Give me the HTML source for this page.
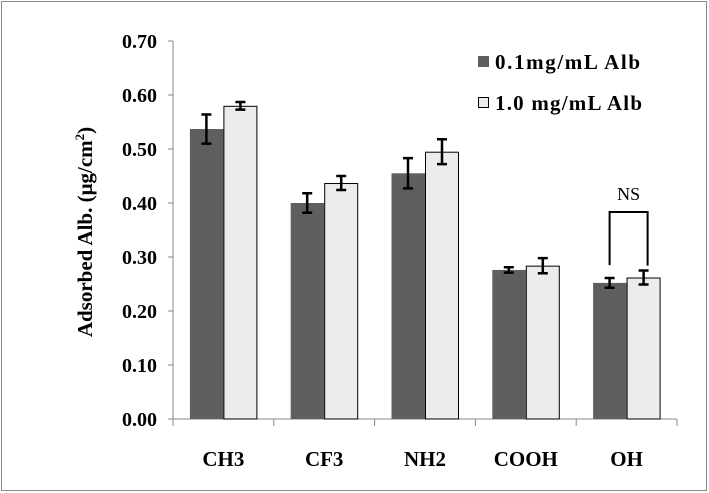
<!DOCTYPE html>
<html><head><meta charset="utf-8"><style>
body{margin:0;background:#fff;}
svg{display:block;font-family:"Liberation Serif",serif;}
</style></head><body>
<svg id="c" width="709" height="493">
<rect x="1.5" y="1.5" width="705" height="489" fill="#fff" stroke="#888"/>
<g id="g"></g>
</svg>
<script>
const categories=["CH3","CF3","NH2","COOH","OH"];
const series1=[0.537,0.400,0.455,0.276,0.252];
const err1=[0.027,0.018,0.028,0.005,0.009];
const series2=[0.580,0.437,0.495,0.284,0.262];
const err2=[0.007,0.013,0.023,0.014,0.013];
const ticks=[0,0.1,0.2,0.3,0.4,0.5,0.6,0.7];
const NS="http://www.w3.org/2000/svg";
const g=document.getElementById('g');
const X0=173,X1=677,Y0=419,Y1=41,YMAX=0.7;
const y=v=>Y0-(v/YMAX)*(Y0-Y1);
const bw=(X1-X0)/categories.length;
const cx=i=>X0+bw*(i+0.5);
function mk(t,a){const e=document.createElementNS(NS,t);for(const k in a)e.setAttribute(k,a[k]);g.appendChild(e);return e;}
let e=mk('line',{x1:X0,y1:Y1,x2:X0,y2:Y0,stroke:'#888'});


e=mk('line',{x1:X0,y1:Y0,x2:X1,y2:Y0,stroke:'#888'});


ticks.forEach(t=>{
 const tk=mk('line',{x1:X0-5,y1:y(t),x2:X0,y2:y(t),stroke:'#888'});
 
 
 const tx=mk('text',{x:X0-16,y:y(t)+7,'text-anchor':'end','font-size':20,'font-weight':'bold'});
 tx.textContent=t.toFixed(2);
 
 
});
for(let i=0;i<=categories.length;i++){
 const tk=mk('line',{x1:X0+bw*i,y1:Y0,x2:X0+bw*i,y2:Y0+7,stroke:'#888'});
 
 
}
function eb(xc,v,d){
 const gg=mk('path',{d:`M${xc},${y(v+d)}V${y(v-d)}M${xc-5},${y(v+d)}H${xc+5}M${xc-5},${y(v-d)}H${xc+5}`,stroke:'#000','stroke-width':2.5,fill:'none'});
 
 
}
categories.forEach((c,i)=>{
 const m=cx(i);
 const b1=mk('rect',{x:m-33.5,y:y(series1[i]),width:33.5,height:Y0-y(series1[i]),fill:'#5f5f5f'});
 
 
 const b2=mk('rect',{x:m+0.5,y:y(series2[i])+0.5,width:33,height:Y0-y(series2[i])-0.5,fill:'#ececec',stroke:'#000','stroke-width':1});
 
 
 eb(m-17,series1[i],err1[i]);
 eb(m+17,series2[i],err2[i]);
 const t=mk('text',{x:m,y:466,'text-anchor':'middle','font-size':21,'font-weight':'bold'});
 t.textContent=c;
 
 
});
const m=cx(4);
e=mk('path',{d:`M${m-17},${y(0.285)}V212H${m+21}V${y(0.284)}`,stroke:'#000','stroke-width':2,fill:'none'});


e=mk('text',{x:m+2,y:200,'text-anchor':'middle','font-size':18});
e.textContent='NS';


</script>
<div style="position:absolute;left:0;top:0;width:709px;height:493px;pointer-events:none">
<svg width="709" height="493" style="font-family:'Liberation Serif',serif">
<g>
<rect x="478" y="56" width="11" height="11" fill="#5f5f5f"/>
<text x="495" y="69" font-size="21" font-weight="bold" textLength="145">0.1mg/mL Alb</text>
<rect x="478.5" y="97.5" width="10" height="10" fill="#ececec" stroke="#000"/>
<text x="495" y="110" font-size="21" font-weight="bold" textLength="147">1.0 mg/mL Alb</text>
</g>
<text transform="translate(92,232) rotate(-90)" text-anchor="middle" font-size="21" font-weight="bold">Adsorbed Alb. (μg/cm<tspan font-size="13" dy="-8">2</tspan><tspan dy="8">)</tspan></text>
</svg></div>
</body></html>
